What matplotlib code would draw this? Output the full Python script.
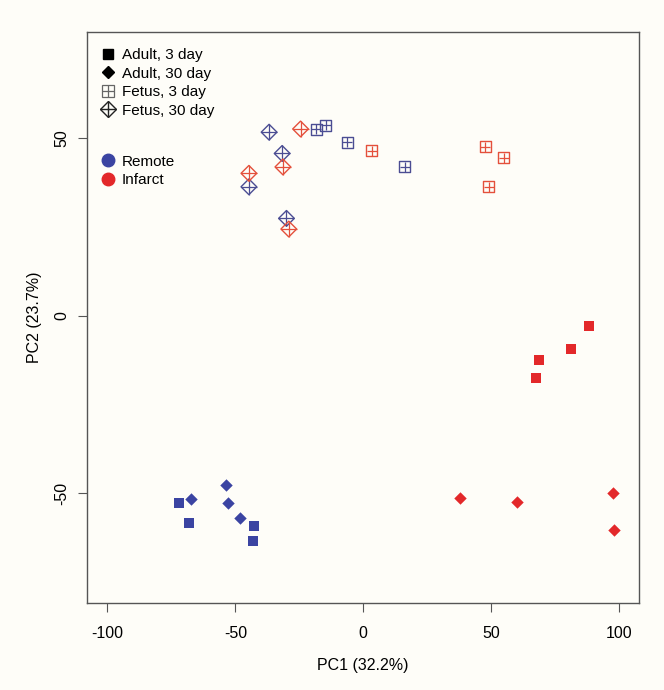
import matplotlib
matplotlib.use("Agg")
import matplotlib.pyplot as plt
from matplotlib.lines import Line2D

# PCA scores, per group
adult3_remote_x = [-72.1, -68.2, -42.6, -43.0]
adult3_remote_y = [-52.7, -58.3, -59.2, -63.4]
adult3_infarct_x = [88.4, 81.3, 68.7, 67.7]
adult3_infarct_y = [-3.0, -9.4, -12.6, -17.5]

adult30_remote_x = [-67.3, -53.6, -53.0, -48.3]
adult30_remote_y = [-51.6, -47.7, -52.9, -57.0]
adult30_infarct_x = [38.0, 60.2, 97.7, 98.1]
adult30_infarct_y = [-51.5, -52.5, -50.1, -60.3]

fetus3_remote_x = [-18.3, -14.7, -6.3, 16.2]
fetus3_remote_y = [52.5, 53.6, 48.9, 41.9]
fetus3_infarct_x = [3.4, 47.7, 54.9, 49.1]
fetus3_infarct_y = [46.5, 47.6, 44.5, 36.3]

fetus30_remote_x = [-36.8, -31.7, -44.7, -30.0]
fetus30_remote_y = [51.7, 45.7, 36.3, 27.4]
fetus30_infarct_x = [-24.5, -31.4, -44.7, -29.1]
fetus30_infarct_y = [52.6, 41.9, 40.1, 24.4]

xticks = [-100, -50, 0, 50, 100]
yticks = [-50, 0, 50]

blue = "#3b44a2"
red = "#e3282a"
blue_open = "#4b4d93"
red_open = "#e4503c"
bg = "#fefdf8"

plt.rcParams["font.family"] = "Liberation Sans"
plt.rcParams["font.size"] = 11.5
plt.rcParams["axes.unicode_minus"] = False

fig = plt.figure(figsize=(6.64, 6.9), dpi=100, facecolor=bg)
ax = fig.add_axes([0.131, 0.126, 0.832, 0.828], facecolor=bg)


def plus_marker(ax, xs, ys, marker, color, size, plus_size):
    # open marker with a cross inside (R pch 9 / 12)
    ax.scatter(xs, ys, marker=marker, s=size, facecolors="none",
               edgecolors=color, linewidths=1.0, zorder=3)
    ax.scatter(xs, ys, marker="+", s=plus_size, color=color,
               linewidths=0.9, zorder=3)


# Adult: filled squares / diamonds
ax.scatter(adult3_remote_x, adult3_remote_y, marker="s", s=52, color=blue,
           linewidths=0, zorder=3)
ax.scatter(adult3_infarct_x, adult3_infarct_y, marker="s", s=52, color=red,
           linewidths=0, zorder=3)
ax.scatter(adult30_remote_x, adult30_remote_y, marker="D", s=40, color=blue,
           linewidths=0, zorder=3)
ax.scatter(adult30_infarct_x, adult30_infarct_y, marker="D", s=40, color=red,
           linewidths=0, zorder=3)

# Fetus: open markers with plus
plus_marker(ax, fetus3_remote_x, fetus3_remote_y, "s", blue_open, 62, 62)
plus_marker(ax, fetus3_infarct_x, fetus3_infarct_y, "s", red_open, 62, 62)
plus_marker(ax, fetus30_remote_x, fetus30_remote_y, "D", blue_open, 64, 128)
plus_marker(ax, fetus30_infarct_x, fetus30_infarct_y, "D", red_open, 64, 128)

ax.set_xlim(-108, 108)
ax.set_ylim(-81, 80)
ax.set_xticks(xticks)
ax.set_yticks(yticks)
ax.set_yticklabels([str(t) for t in yticks], rotation=90, va="center")
ax.tick_params(length=6.5, width=0.8, color="#555555", labelsize=11.5)
ax.tick_params(axis="x", pad=10)
ax.tick_params(axis="y", pad=6)
for sp in ax.spines.values():
    sp.set_color("#555555")
    sp.set_linewidth(1.0)

ax.set_xlabel("PC1 (32.2%)", fontsize=11.5, labelpad=12)
ax.set_ylabel("PC2 (23.7%)", fontsize=11.5, labelpad=9)

# Legend: shape block
k = "#222222"
shape_handles = [
    Line2D([], [], ls="none", marker="s", ms=7, color="black"),
    Line2D([], [], ls="none", marker="D", ms=5.8, color="black"),
    (Line2D([], [], ls="none", marker="s", ms=8, mfc="none", mec="#666666",
            mew=0.9),
     Line2D([], [], ls="none", marker="+", ms=8, color="#666666", mew=0.9)),
    (Line2D([], [], ls="none", marker="D", ms=8, mfc="none", mec=k, mew=1.0),
     Line2D([], [], ls="none", marker="+", ms=11.3, color=k, mew=1.0)),
]
shape_labels = ["Adult, 3 day", "Adult, 30 day", "Fetus, 3 day",
                "Fetus, 30 day"]
leg1 = ax.legend(shape_handles, shape_labels, loc="upper left",
                 bbox_to_anchor=(0.001, 0.9955), frameon=False, fontsize=11,
                 handlelength=0.9, handletextpad=0.45, labelspacing=0.3,
                 borderaxespad=0.5)
ax.add_artist(leg1)

color_handles = [
    Line2D([], [], ls="none", marker="o", ms=9, color=blue),
    Line2D([], [], ls="none", marker="o", ms=9, color=red),
]
ax.legend(color_handles, ["Remote", "Infarct"], loc="upper left",
          bbox_to_anchor=(0.001, 0.809), frameon=False, fontsize=11,
          handlelength=0.9, handletextpad=0.45, labelspacing=0.3,
          borderaxespad=0.5)

fig.savefig("out.png", dpi=100, facecolor=bg)
